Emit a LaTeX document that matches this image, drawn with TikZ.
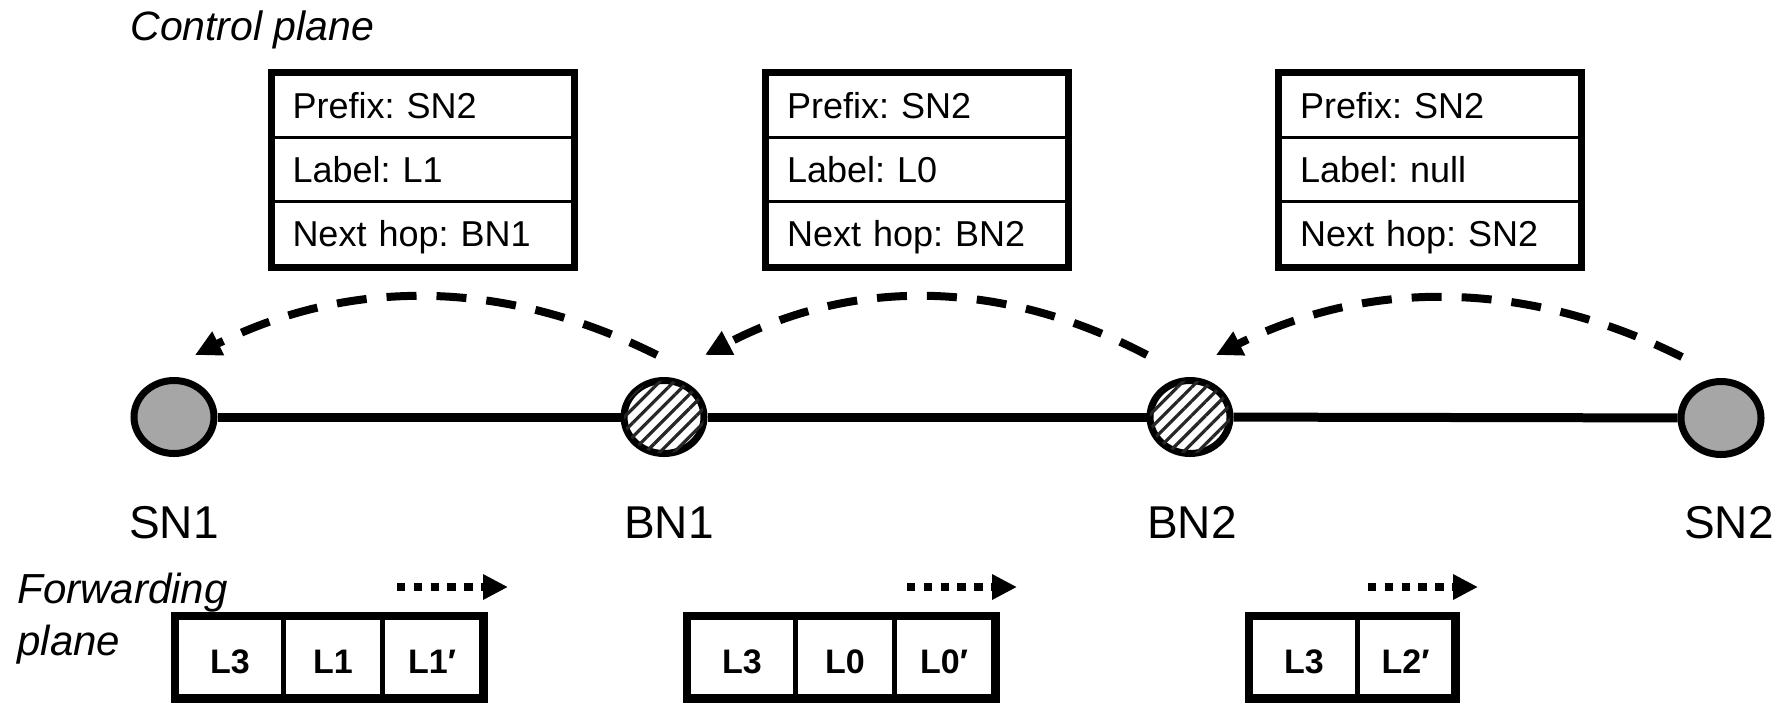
\documentclass[tikz,border=0pt]{standalone}
\usepackage{fontspec}
\setmainfont{Liberation Sans}
\usetikzlibrary{arrows.meta,patterns.meta,shapes.geometric,calc}
\frenchspacing

\definecolor{nodegray}{HTML}{A6A6A6}

\tikzset{
  tablerow/.style={draw=black, line width=1.5pt, minimum width=150pt, minimum height=32pt,
    text width=130pt, inner xsep=10pt, inner ysep=0pt, align=left,
    text height=12.9pt, text depth=0pt, font=\fontsize{18}{20}\selectfont},
  frame/.style={draw=black, line width=3.5pt},
  endnode/.style={ellipse, draw=black, line width=3.5pt, minimum width=40pt,
    minimum height=36.5pt, inner sep=0pt, fill=nodegray},
  borderbox/.style={ellipse, draw=black, line width=3.5pt, minimum width=40pt,
    minimum height=36.5pt, inner sep=0pt, fill=white,
    postaction={pattern={Lines[angle=45,distance=5pt,line width=1.6pt]}, pattern color=black!85}},
  link/.style={draw=black, line width=4.5pt},
  nodelabel/.style={anchor=base, inner sep=0pt, font=\fontsize{23}{26}\selectfont},
  planetitle/.style={anchor=base west, inner sep=0pt, font=\itshape\fontsize{20.5}{24}\selectfont},
  cellwide/.style={draw=black, line width=2.5pt, minimum width=53.5pt, minimum height=39.5pt,
    inner sep=0pt, text height=16.2pt, text depth=0pt, font=\bfseries\fontsize{17}{20}\selectfont},
  cellnarrow/.style={cellwide, minimum width=49.5pt},
  advert/.style={line width=4pt, dash pattern=on 15pt off 10pt,
    -{Triangle[length=13pt,width=12.5pt]}},
  fwd/.style={line width=4pt, dash pattern=on 4.2pt off 4.2pt,
    -{Triangle[length=12.5pt,width=12pt]}}
}

\begin{document}
\begin{tikzpicture}[x=0.5pt,y=-0.5pt]
  \path[use as bounding box, fill=white] (0,0) rectangle (1780,702);

  % plane titles
  \node[planetitle] (cptitle) at (130,40) {Control plane};
  \node[planetitle, font=\itshape\fontsize{21}{24}\selectfont] (fptitleA) at (17,603) {Forwarding};
  \node[planetitle, font=\itshape\fontsize{21}{24}\selectfont] (fptitleB) at (17,655) {plane};

  % label-binding tables
  \node[tablerow] (t1a) at (422.5,105.5) {Prefix: SN2};
  \node[tablerow] (t1b) at (422.5,169.5) {Label: L1};
  \node[tablerow] (t1c) at (422.5,233.5) {Next hop: BN1};
  \draw[frame] (t1a.north west) rectangle (t1c.south east);

  \node[tablerow] (t2a) at (917,105.5) {Prefix: SN2};
  \node[tablerow] (t2b) at (917,169.5) {Label: L0};
  \node[tablerow] (t2c) at (917,233.5) {Next hop: BN2};
  \draw[frame] (t2a.north west) rectangle (t2c.south east);

  \node[tablerow] (t3a) at (1430,105.5) {Prefix: SN2};
  \node[tablerow] (t3b) at (1430,169.5) {Label: null};
  \node[tablerow] (t3c) at (1430,233.5) {Next hop: SN2};
  \draw[frame] (t3a.north west) rectangle (t3c.south east);

  % network nodes
  \node[endnode] (sn1) at (174,417) {};
  \node[borderbox] (bn1) at (664,417) {};
  \node[borderbox] (bn2) at (1190,417) {};
  \node[endnode] (sn2) at (1721,418) {};

  \draw[link] (sn1) -- (bn1);
  \draw[link] (bn1) -- (bn2);
  \draw[link] (bn2) -- (sn2);

  \node[nodelabel] (sn1l) at (174,538) {SN1};
  \node[nodelabel] (bn1l) at (669,538) {BN1};
  \node[nodelabel] (bn2l) at (1192,538) {BN2};
  \node[nodelabel] (sn2l) at (1729,538) {SN2};

  % label advertisements
  \draw[advert] ($(bn1)+(-7,-62)$) .. controls +(-154,-77) and +(154,-77) .. ($(sn1)+(21,-62)$);
  \draw[advert] ($(bn2)+(-43,-62)$) .. controls +(-147,-77) and +(147,-77) .. ($(bn1)+(41,-62)$);
  \draw[advert] ($(sn2)+(-39,-61)$) .. controls +(-155,-77) and +(155,-77) .. ($(bn2)+(26,-62)$);

  % forwarding plane label stacks
  \node[cellwide] (c11) at (230,657) {L3};
  \node[cellnarrow] (c12) at (333,657) {L1};
  \node[cellnarrow] (c13) at (432,657) {L1′};
  \draw[frame] (c11.north west) rectangle (c13.south east);

  \node[cellwide] (c21) at (742,657) {L3};
  \node[cellnarrow] (c22) at (845,657) {L0};
  \node[cellnarrow] (c23) at (944,657) {L0′};
  \draw[frame] (c21.north west) rectangle (c23.south east);

  \node[cellwide] (c31) at (1304,657) {L3};
  \node[cellnarrow, minimum width=48pt] (c32) at (1405.5,657) {L2′};
  \draw[frame] (c31.north west) rectangle (c32.south east);

  % packet direction
  \coordinate (f1s) at (397,587);
  \coordinate (f1e) at (508,587);
  \coordinate (f2s) at (907,587);
  \coordinate (f2e) at (1017,587);
  \coordinate (f3s) at (1368,587);
  \coordinate (f3e) at (1478,587);
  \draw[fwd] (f1s) -- (f1e);
  \draw[fwd] (f2s) -- (f2e);
  \draw[fwd] (f3s) -- (f3e);
\end{tikzpicture}
\end{document}
